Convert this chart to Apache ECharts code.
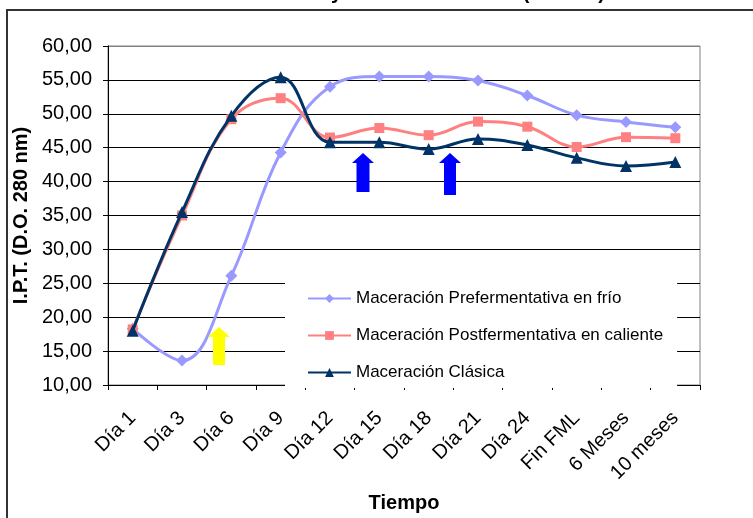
<!DOCTYPE html>
<html><head><meta charset="utf-8">
<script src="https://cdn.jsdelivr.net/npm/echarts@6/dist/echarts.min.js"></script>
<style>html,body{margin:0;padding:0;background:#fff}#c{width:753px;height:518px}</style>
</head><body><div id="c"></div>
<script>
var categories = ['Día 1','Día 3','Día 6','Día 9','Día 12','Día 15','Día 18','Día 21','Día 24','Fin FML','6 Meses','10 meses'];
var prefermentativa = [18.3, 13.6, 26.1, 44.3, 54.0, 55.5, 55.5, 54.9, 52.7, 49.8, 48.8, 48.0];
var postfermentativa = [18.2, 35.0, 49.2, 52.3, 46.5, 47.9, 46.85, 48.85, 48.1, 45.1, 46.55, 46.4];
var clasica = [18.0, 35.5, 49.7, 55.4, 45.8, 45.8, 44.8, 46.3, 45.4, 43.5, 42.3, 42.9];
var seriesNames = ['Maceración Prefermentativa en frío','Maceración Postfermentativa en caliente','Maceración Clásica'];
var yTicks = {min: 10, max: 60, interval: 5};

var font = 'Arial, "Liberation Sans", sans-serif';
var chart = echarts.init(document.getElementById('c'), null, {renderer: 'canvas'});
var gridColors = [];
for (var i = 0; i < 10; i++) gridColors.push('#000');
gridColors.push('#808080');

function arrow(x, top, headW, headH, shaftW, bottom, color) {
  var cx = x;
  return {
    type: 'polygon', z: 100,
    shape: {points: [[cx, top], [cx + headW/2, top + headH], [cx + shaftW/2, top + headH], [cx + shaftW/2, bottom],
      [cx - shaftW/2, bottom], [cx - shaftW/2, top + headH], [cx - headW/2, top + headH]]},
    style: {fill: color}
  };
}

chart.setOption({
  animation: false,
  backgroundColor: '#fff',
  textStyle: {fontFamily: font},
  grid: {left: 108, right: 53, top: 46, bottom: 130, show: true, borderColor: '#808080', borderWidth: 1, backgroundColor: '#fff'},
  legend: {
    orient: 'vertical', left: 285, top: 262,
    padding: [28, 14, 7, 22],
    backgroundColor: '#fff',
    itemWidth: 43, itemHeight: 11, itemGap: 20,
    textStyle: {fontSize: 17, color: '#000', fontFamily: font},
    data: seriesNames
  },
  xAxis: {
    type: 'category', data: categories, boundaryGap: true,
    axisLine: {lineStyle: {color: '#000', width: 1}},
    axisTick: {show: true, length: 5, lineStyle: {color: '#000'}},
    axisLabel: {rotate: 45, fontSize: 20, color: '#000', margin: 30, interval: 0, fontFamily: font},
    name: 'Tiempo', nameLocation: 'middle', nameGap: 108,
    nameTextStyle: {fontSize: 20, fontWeight: 'bold', color: '#000', fontFamily: font}
  },
  yAxis: {
    type: 'value', min: yTicks.min, max: yTicks.max, interval: yTicks.interval,
    axisLine: {show: true, lineStyle: {color: '#000', width: 1}},
    axisTick: {show: true, length: 5, lineStyle: {color: '#000'}},
    axisLabel: {fontSize: 20, color: '#000', margin: 16, fontFamily: font,
      formatter: function (v) { return v.toFixed(2).replace('.', ','); }},
    splitLine: {show: true, lineStyle: {color: gridColors, width: 1}},
    name: 'I.P.T. (D.O. 280 nm)', nameLocation: 'middle', nameGap: 71, nameRotate: 90,
    nameTextStyle: {fontSize: 20, fontWeight: 'bold', color: '#000', fontFamily: font}
  },
  series: [
    {name: seriesNames[0], type: 'line', data: prefermentativa, smooth: 0.4,
      symbol: 'diamond', symbolSize: 12, itemStyle: {color: '#9999FF'}, lineStyle: {color: '#9999FF', width: 3}, z: 2},
    {name: seriesNames[1], type: 'line', data: postfermentativa, smooth: 0.4,
      symbol: 'rect', symbolSize: 10, itemStyle: {color: '#FF8080'}, lineStyle: {color: '#FF8080', width: 3}, z: 3},
    {name: seriesNames[2], type: 'line', data: clasica, smooth: 0.4,
      symbol: 'triangle', symbolSize: 12, itemStyle: {color: '#003366'}, lineStyle: {color: '#003366', width: 3}, z: 4}
  ],
  graphic: [
    {type: 'rect', z: 100, shape: {x: 7, y: 10, width: 800, height: 600}, style: {fill: 'none', stroke: '#333', lineWidth: 2}},
    {type: 'text', z: 100, x: 342, y: 3, style: {text: 'Evolución del I.P.T. en vinos tintos y', align: 'right', verticalAlign: 'bottom', font: 'bold 20px ' + font, fill: '#000'}},
    {type: 'text', z: 100, x: 605, y: 3, style: {text: 'crianza en barrica (280 nm)', align: 'right', verticalAlign: 'bottom', font: 'bold 20px ' + font, fill: '#000'}},
    arrow(219, 327, 22, 10, 12, 365, '#FFFF00'),
    arrow(363, 153, 22, 10, 13, 192, '#0000FF'),
    arrow(450, 153, 22, 10, 12, 195, '#0000FF')
  ]
});
</script></body></html>
